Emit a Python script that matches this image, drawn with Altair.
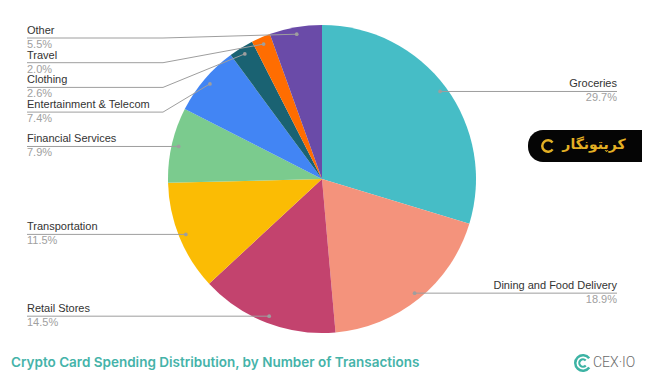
import math
import altair as alt
import pandas as pd

categories = ["Groceries", "Dining and Food Delivery", "Retail Stores", "Transportation",
              "Financial Services", "Entertainment & Telecom", "Clothing", "Travel", "Other"]
shares = [29.7, 18.9, 14.5, 11.5, 7.9, 7.4, 2.6, 2.0, 5.5]
colors = ["#46BDC6", "#F4937C", "#C3436E", "#FBBC04", "#7BCB8E", "#4285F4", "#1A6272", "#FF6D01", "#6A4BA8"]
title_text = "Crypto Card Spending Distribution, by Number of Transactions"
brand = "CEX·IO"
watermark = "کرپتونگار"

W, H = 634, 373
CX, CY, R = 314, 171, 154
DOT_R = 147
GAP = 24.7
LEFT_X, RIGHT_X = 19, 609
LEFT_ELBOW, RIGHT_ELBOW = 155, 470
TOP_MIN = 30

# geometry of slices
rows = []
cum = 0.0
total = sum(shares)
for i, (c, s) in enumerate(zip(categories, shares)):
    mid = (cum + s / 2) / total * 2 * math.pi
    cum += s
    rows.append(dict(cat=c, share=s, idx=i,
                     dx=CX + DOT_R * math.sin(mid), dy=CY - DOT_R * math.cos(mid),
                     side="left" if mid > math.pi else "right"))

# label placement with anti-overlap
for side in ("left", "right"):
    group = sorted([r for r in rows if r["side"] == side], key=lambda r: r["dy"])
    prev = TOP_MIN - GAP
    for r in group:
        r["ly"] = max(r["dy"], prev + GAP)
        prev = r["ly"]

pie_df = pd.DataFrame([{k: r[k] for k in ("cat", "share", "idx")} for r in rows])

line_rows = []
for r in rows:
    if r["side"] == "left":
        pts = [(LEFT_X, r["ly"]), (LEFT_ELBOW, r["ly"]), (r["dx"], r["dy"])]
    else:
        pts = [(RIGHT_X, r["ly"]), (RIGHT_ELBOW, r["ly"]), (r["dx"], r["dy"])]
    for k, (px, py) in enumerate(pts):
        line_rows.append(dict(cat=r["cat"], seq=k, px=px, py=py))
line_df = pd.DataFrame(line_rows)

lab_rows = []
for r in rows:
    lab_rows.append(dict(cat=r["cat"], pct=f"{r['share']:.1f}%", side=r["side"],
                         lx=LEFT_X if r["side"] == "left" else RIGHT_X,
                         ny=r["ly"] - 7, py=r["ly"] + 7, dx=r["dx"], dy=r["dy"]))
lab_df = pd.DataFrame(lab_rows)

XS = dict(scale=None, axis=None)

pie = alt.Chart(pie_df).mark_arc(radius=R).encode(
    theta=alt.Theta("share:Q", stack=True),
    color=alt.Color("cat:N", scale=alt.Scale(domain=categories, range=colors), legend=None),
    order=alt.Order("idx:Q", sort="ascending"),
    x=alt.value(CX), y=alt.value(CY),
)

lines = alt.Chart(line_df).mark_line(color="#9E9E9E", strokeWidth=1).encode(
    x=alt.X("px:Q", **XS), y=alt.Y("py:Q", **XS),
    detail="cat:N", order="seq:Q",
)

dots = alt.Chart(lab_df).mark_circle(color="#9E9E9E", size=14, opacity=1).encode(
    x=alt.X("dx:Q", **XS), y=alt.Y("dy:Q", **XS),
)

def text_layers(side, align):
    base = alt.Chart(lab_df).transform_filter(alt.datum.side == side)
    names = base.mark_text(align=align, baseline="middle", font="Liberation Sans",
                           fontSize=11, color="#333333").encode(
        x=alt.X("lx:Q", **XS), y=alt.Y("ny:Q", **XS), text="cat:N")
    pcts = base.mark_text(align=align, baseline="middle", font="Liberation Sans",
                          fontSize=11, color="#A0A0A0").encode(
        x=alt.X("lx:Q", **XS), y=alt.Y("py:Q", **XS), text="pct:N")
    return [names, pcts]

one = pd.DataFrame({"t": [title_text], "b": [brand], "w": [watermark]})

title = alt.Chart(one).mark_text(align="left", baseline="middle", font="Inter",
                                 fontSize=13.5, fontWeight=600, color="#45B3A9").encode(
    text="t:N", x=alt.value(3), y=alt.value(355))

brand_txt = alt.Chart(one).mark_text(align="left", baseline="middle", font="Roboto",
                                     fontSize=14, fontWeight=300, color="#6B6B6B").encode(
    text="b:N", x=alt.value(585), y=alt.value(355))

icon_outer = alt.Chart(one).mark_arc(radius=9, radius2=6.5, theta=2.2, theta2=7.2,
                                     color="#3DB3A4").encode(x=alt.value(575), y=alt.value(355))
icon_inner = alt.Chart(one).mark_arc(radius=4.8, radius2=2.6, theta=2.3, theta2=7.1,
                                     color="#3DB3A4").encode(x=alt.value(575), y=alt.value(355))

wm_box = alt.Chart(one).mark_rect(color="#050505", cornerRadius=15).encode(
    x=alt.value(520), x2=alt.value(660), y=alt.value(122), y2=alt.value(154))
wm_txt = alt.Chart(one).mark_text(align="center", baseline="middle", font="DejaVu Sans",
                                  fontSize=14, fontWeight="bold", color="#E3B024").encode(
    text="w:N", x=alt.value(586), y=alt.value(137))
wm_icon = alt.Chart(one).mark_arc(radius=7, radius2=4.5, theta=2.2, theta2=7.2,
                                  color="#E3B024").encode(x=alt.value(540), y=alt.value(138))

chart = alt.layer(
    pie, lines, dots, *text_layers("left", "left"), *text_layers("right", "right"),
    title, brand_txt, icon_outer, icon_inner, wm_box, wm_txt, wm_icon,
).properties(width=W, height=H, padding=0, autosize=alt.AutoSizeParams(type="none")
).configure_view(stroke=None)

chart.save("out.html", embed_options={"renderer": "svg", "actions": False})
